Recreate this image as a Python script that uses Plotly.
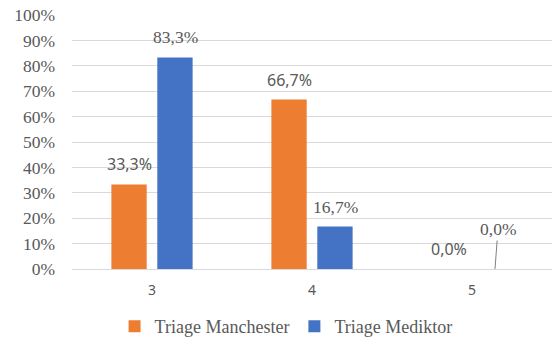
import plotly.graph_objects as go

categories = ["3", "4", "5"]
manchester = [33.3, 66.7, 0.0]
mediktor = [83.3, 16.7, 0.0]
tick_vals = [0, 10, 20, 30, 40, 50, 60, 70, 80, 90, 100]
tick_text = [f"{v}%" for v in tick_vals]

ORANGE = "#ED7D31"
BLUE = "#4472C4"
GRAY = "#595959"
SERIF = "Liberation Serif"
SANS = "Noto Sans"

def fmt(v):
    return f"{v:.1f}%".replace(".", ",")

fig = go.Figure()
fig.add_trace(go.Bar(x=categories, y=manchester, name="Triage Manchester",
                     marker=dict(color=ORANGE, line=dict(width=0))))
fig.add_trace(go.Bar(x=categories, y=mediktor, name="Triage Mediktor",
                     marker=dict(color=BLUE, line=dict(width=0))))

annotations = []
for i, v in enumerate(manchester):
    annotations.append(dict(x=i, y=v, xref="x", yref="y", xshift=-23, yshift=20,
                            text=fmt(v), showarrow=False,
                            font=dict(family=SANS, size=16, color=GRAY)))
for i, v in enumerate(mediktor):
    if v > 0:
        annotations.append(dict(x=i, y=v, xref="x", yref="y", xshift=23, yshift=20,
                                text=fmt(v), showarrow=False,
                                font=dict(family=SERIF, size=17.5, color=GRAY)))
    else:
        annotations.append(dict(x=i, y=v, xref="x", yref="y", xshift=23, text=fmt(v),
                                showarrow=True, arrowhead=0, arrowwidth=1,
                                arrowcolor="#7f7f7f", ax=3, ay=-40,
                                standoff=0, startstandoff=0,
                                font=dict(family=SERIF, size=17.5, color=GRAY)))

fig.update_layout(
    width=553, height=346,
    margin=dict(l=72, r=1, t=15, b=77),
    paper_bgcolor="white", plot_bgcolor="white",
    barmode="group", bargap=0.426, bargroupgap=0.231,
    annotations=annotations,
    showlegend=True,
    legend=dict(orientation="h", x=0.446, xanchor="center", y=-0.154, yanchor="top",
                font=dict(family=SERIF, size=18, color=GRAY),
                itemwidth=30, tracegroupgap=0),
    xaxis=dict(type="category", range=[-0.5, 2.5], showgrid=False, showline=True,
               linecolor="#d9d9d9", linewidth=1, ticks="",
               tickfont=dict(family=SANS, size=14, color=GRAY),
               ticklabelstandoff=8),
    yaxis=dict(range=[0, 100], tickvals=tick_vals, ticktext=tick_text,
               showgrid=True, gridcolor="#d9d9d9", gridwidth=1, zeroline=False,
               showline=False, ticks="", ticklabelstandoff=16,
               tickfont=dict(family=SERIF, size=17.5, color=GRAY)),
)

fig.write_html("out.html")
